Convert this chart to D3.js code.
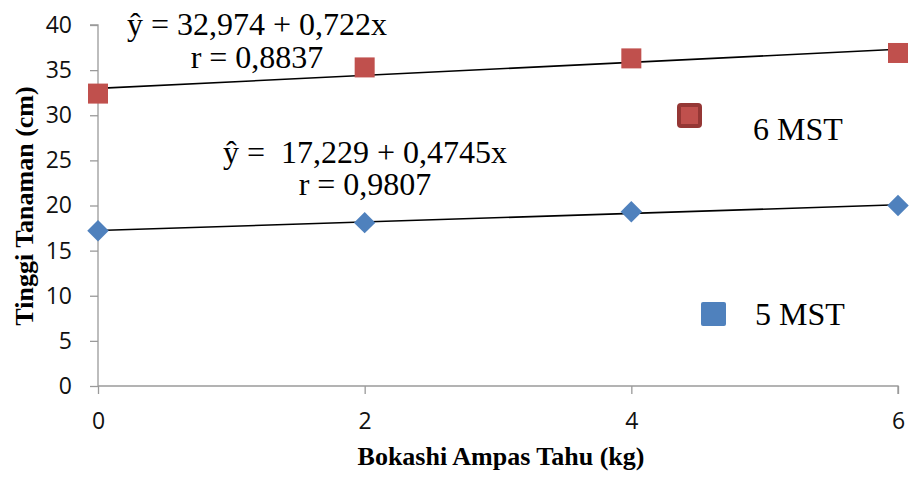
<!DOCTYPE html>
<html>
<head>
<meta charset="utf-8">
<script src="https://cdn.jsdelivr.net/npm/d3@7"></script>
<style>
  body { margin: 0; background: #fff; }
  svg text { white-space: pre; }
</style>
</head>
<body>
<div id="chart"></div>
<script>
// data
const doses = [0, 2, 4, 6];
const mst6 = [32.4, 35.3, 36.3, 36.9];
const mst5 = [17.2, 18.1, 19.3, 20.0];
// trend lines (intercept, slope)
const trend6 = [32.974, 0.722];
const trend5 = [17.229, 0.4745];
const yTicks = [0, 5, 10, 15, 20, 25, 30, 35, 40];
const xTicks = [0, 2, 4, 6];
const eq6 = ["ŷ = 32,974 + 0,722x", "r = 0,8837"];
const eq5 = ["ŷ =  17,229 + 0,4745x", "r = 0,9807"];
const seriesNames = ["6 MST", "5 MST"];

const W = 909, H = 477;
const serif = "'Liberation Serif', 'Times New Roman', serif";
const sans = "'Open Sans', 'Noto Sans', sans-serif";
const red = "#C0504D", redDark = "#953735", blue = "#4F81BD", axisCol = "#9a9a9a";

const svg = d3.select("#chart").append("svg")
  .attr("width", W).attr("height", H);

const x = d3.scaleLinear().domain([0, 6]).range([98, 898]);
const y = d3.scaleLinear().domain([0, 40]).range([386, 25]);

// axes
const yAxis = svg.append("g")
  .attr("transform", `translate(${x(0)},0)`)
  .call(d3.axisLeft(y).tickValues(yTicks).tickSize(8).tickPadding(18));
const xAxis = svg.append("g")
  .attr("transform", `translate(0,${y(0)})`)
  .call(d3.axisBottom(x).tickValues(xTicks).tickFormat(d3.format("d")).tickSize(8).tickPadding(19));

[xAxis, yAxis].forEach(g => {
  g.select(".domain").attr("stroke", axisCol).attr("stroke-width", 1.3);
  g.selectAll(".tick line").attr("stroke", axisCol).attr("stroke-width", 1.3);
  g.selectAll(".tick text")
    .style("font-family", sans).style("font-size", "23px").attr("fill", "#111");
});
// keep plain ends of the axis lines
yAxis.select(".domain").attr("d", `M0,${y(0)}V${y(40)}H-8`);
xAxis.select(".domain").attr("d", `M${x(0)},0H${x(6)}V8`);

// trend lines
const line = d3.line().x(d => x(d[0])).y(d => y(d[1]));
[trend6, trend5].forEach(t => {
  svg.append("path")
    .attr("d", line([[0, t[0]], [6, t[0] + t[1] * 6]]))
    .attr("fill", "none").attr("stroke", "#000").attr("stroke-width", 1.6);
});

// 6 MST squares
svg.selectAll(".sq").data(doses).enter().append("rect")
  .attr("class", "sq")
  .attr("x", (d, i) => x(d) - 10)
  .attr("y", (d, i) => y(mst6[i]) - 10)
  .attr("width", 20).attr("height", 20)
  .attr("fill", red);

// 5 MST diamonds
const diamond = d3.symbol().type(d3.symbolSquare).size(230);
svg.selectAll(".dm").data(doses).enter().append("path")
  .attr("class", "dm")
  .attr("d", diamond)
  .attr("transform", (d, i) => `translate(${x(d)},${y(mst5[i])}) rotate(45)`)
  .attr("fill", blue);

// equations
function eqText(lines, cx, baselines) {
  lines.forEach((s, i) => {
    svg.append("text")
      .attr("x", cx).attr("y", baselines[i])
      .attr("text-anchor", "middle")
      .style("font-family", serif).style("font-size", "32px")
      .text(s);
  });
}
eqText(eq6, 257, [35, 68]);
eqText(eq5, 365, [163, 195]);

// legend
svg.append("rect").attr("x", 679).attr("y", 105).attr("width", 21).attr("height", 21)
  .attr("rx", 2).attr("fill", red).attr("stroke", redDark).attr("stroke-width", 4);
svg.append("text").attr("x", 753).attr("y", 140)
  .style("font-family", serif).style("font-size", "32px").text(seriesNames[0]);
svg.append("rect").attr("x", 701).attr("y", 302).attr("width", 25).attr("height", 24)
  .attr("rx", 2).attr("fill", blue);
svg.append("text").attr("x", 755).attr("y", 325)
  .style("font-family", serif).style("font-size", "32px").text(seriesNames[1]);

// axis titles
svg.append("text")
  .attr("x", 501).attr("y", 465).attr("text-anchor", "middle")
  .style("font-family", serif).style("font-size", "26px").style("font-weight", "bold")
  .text("Bokashi Ampas Tahu (kg)");
svg.append("text")
  .attr("transform", "translate(33,206) rotate(-90)")
  .attr("text-anchor", "middle")
  .style("font-family", serif).style("font-size", "26px").style("font-weight", "bold")
  .text("Tinggi Tanaman (cm)");
</script>
</body>
</html>
